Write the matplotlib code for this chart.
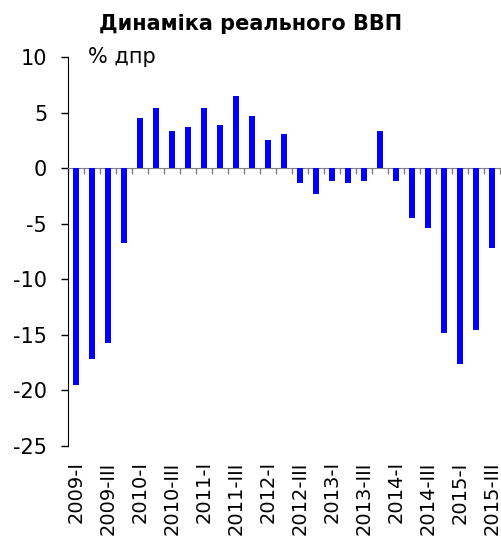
import matplotlib.pyplot as plt
import numpy as np

# квартали 2009-I ... 2015-III
quarters = ['2009-I', '2009-II', '2009-III', '2009-IV',
            '2010-I', '2010-II', '2010-III', '2010-IV',
            '2011-I', '2011-II', '2011-III', '2011-IV',
            '2012-I', '2012-II', '2012-III', '2012-IV',
            '2013-I', '2013-II', '2013-III', '2013-IV',
            '2014-I', '2014-II', '2014-III', '2014-IV',
            '2015-I', '2015-II', '2015-III']
gdp = [-19.5, -17.2, -15.7, -6.7,
       4.5, 5.4, 3.3, 3.7,
       5.4, 3.9, 6.5, 4.7,
       2.5, 3.1, -1.3, -2.3,
       -1.2, -1.3, -1.2, 3.3,
       -1.2, -4.5, -5.4, -14.8,
       -17.6, -14.6, -7.2]
yticks = [10, 5, 0, -5, -10, -15, -20, -25]

plt.rcParams['font.family'] = ['DejaVu Sans']

fig = plt.figure(figsize=(5.02, 5.53), dpi=100)
ax = fig.add_axes([68 / 502, 1 - 446 / 553, 432 / 502, (446 - 57) / 553])

x = np.arange(len(quarters))
ax.bar(x, gdp, width=0.38, color='#0000ff', zorder=3)

ax.set_xlim(-0.5, len(quarters) - 0.5)
ax.set_ylim(-25, 10)
ax.set_yticks(yticks)
ax.set_yticklabels([str(v) for v in yticks], fontsize=15)
ax.tick_params(axis='y', length=5, width=1, pad=10)

# вісь X проходить через нуль, риски між кварталами
for s in ['top', 'right']:
    ax.spines[s].set_visible(False)
ax.spines['bottom'].set_position(('data', 0))
ax.spines['bottom'].set_color('#808080')
ax.set_xticks([])
ax.set_xticks(np.arange(len(quarters) + 1) - 0.5, minor=True)
ax.tick_params(axis='x', which='minor', length=4.5, width=1, color='#808080')

# підписи кварталів внизу
sec = ax.secondary_xaxis(0.0)
sec.set_xticks(x[::2])
sec.set_xticklabels(quarters[::2], rotation=90, fontsize=14)
sec.tick_params(length=0, pad=11)
sec.spines['bottom'].set_visible(False)

ax.text(0.046, 1.0, '% дпр', transform=ax.transAxes, fontsize=15, va='center', ha='left')
fig.text(0.5, 1 - 24 / 553, 'Динаміка реального ВВП', fontsize=15, fontweight='bold',
         ha='center', va='center')

fig.savefig('out.png', dpi=100)
